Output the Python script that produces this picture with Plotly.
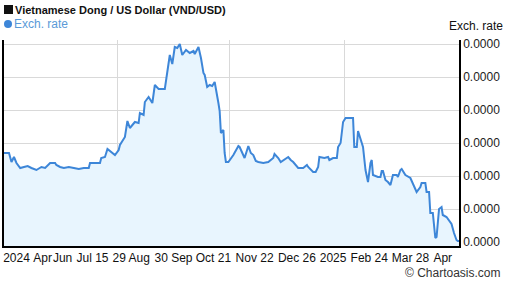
import plotly.graph_objects as go

dates = [
    "2024-05-05", "2024-05-09", "2024-05-11", "2024-05-13", "2024-05-15", "2024-05-18",
    "2024-05-21", "2024-05-24", "2024-05-27", "2024-05-31", "2024-06-04", "2024-06-07",
    "2024-06-11", "2024-06-15", "2024-06-16", "2024-06-19", "2024-06-22", "2024-06-26",
    "2024-06-30", "2024-07-04", "2024-07-08", "2024-07-12", "2024-07-13", "2024-07-18",
    "2024-07-21", "2024-07-22", "2024-07-25", "2024-07-27", "2024-07-31", "2024-08-02",
    "2024-08-05", "2024-08-06", "2024-08-10", "2024-08-12", "2024-08-14", "2024-08-18",
    "2024-08-21", "2024-08-22", "2024-08-25", "2024-08-26", "2024-08-29", "2024-09-01",
    "2024-09-03", "2024-09-06", "2024-09-11", "2024-09-12", "2024-09-15", "2024-09-17",
    "2024-09-19", "2024-09-21", "2024-09-23", "2024-09-25", "2024-09-28", "2024-10-01",
    "2024-10-04", "2024-10-05", "2024-10-08", "2024-10-10", "2024-10-12", "2024-10-13",
    "2024-10-15", "2024-10-17", "2024-10-19", "2024-10-21", "2024-10-22", "2024-10-24",
    "2024-10-25", "2024-10-26", "2024-10-28", "2024-10-29", "2024-10-30", "2024-11-01",
    "2024-11-05", "2024-11-09", "2024-11-10", "2024-11-14", "2024-11-17", "2024-11-19",
    "2024-11-21", "2024-11-23", "2024-11-25", "2024-11-29", "2024-12-03", "2024-12-07",
    "2024-12-08", "2024-12-11", "2024-12-13", "2024-12-19", "2024-12-21", "2024-12-23",
    "2024-12-27", "2024-12-31", "2025-01-03", "2025-01-04", "2025-01-08", "2025-01-10",
    "2025-01-12", "2025-01-13", "2025-01-17", "2025-01-20", "2025-01-21", "2025-01-24",
    "2025-01-27", "2025-01-28", "2025-01-30", "2025-02-01", "2025-02-03", "2025-02-09",
    "2025-02-10", "2025-02-12", "2025-02-13", "2025-02-17", "2025-02-19", "2025-02-21",
    "2025-02-23", "2025-02-24", "2025-02-25", "2025-03-01", "2025-03-03", "2025-03-04",
    "2025-03-05", "2025-03-07", "2025-03-09", "2025-03-11", "2025-03-13", "2025-03-16",
    "2025-03-17", "2025-03-19", "2025-03-20", "2025-03-23", "2025-03-27", "2025-03-29",
    "2025-04-01", "2025-04-04", "2025-04-05", "2025-04-08", "2025-04-09", "2025-04-11",
    "2025-04-12", "2025-04-14", "2025-04-16", "2025-04-17", "2025-04-19", "2025-04-21",
    "2025-04-22", "2025-04-25", "2025-04-28", "2025-04-29", "2025-05-01", "2025-05-03",
    "2025-05-04", "2025-05-05",
]

rates = [
    3.9379e-5, 3.9379e-5, 3.9280e-5, 3.9335e-5, 3.9269e-5, 3.9214e-5,
    3.9225e-5, 3.9236e-5, 3.9214e-5, 3.9192e-5, 3.9225e-5, 3.9214e-5,
    3.9269e-5, 3.9269e-5, 3.9247e-5, 3.9225e-5, 3.9214e-5, 3.9225e-5,
    3.9214e-5, 3.9203e-5, 3.9214e-5, 3.9214e-5, 3.9269e-5, 3.9269e-5,
    3.9269e-5, 3.9324e-5, 3.9335e-5, 3.9423e-5, 3.9379e-5, 3.9357e-5,
    3.9412e-5, 3.9467e-5, 3.9555e-5, 3.9731e-5, 3.9654e-5, 3.9720e-5,
    3.9709e-5, 3.9819e-5, 3.9797e-5, 3.9940e-5, 3.9995e-5, 3.9929e-5,
    4.0127e-5, 4.0083e-5, 4.0083e-5, 4.0182e-5, 4.0457e-5, 4.0358e-5,
    4.0545e-5, 4.0534e-5, 4.0578e-5, 4.0457e-5, 4.0512e-5, 4.0479e-5,
    4.0501e-5, 4.0468e-5, 4.0545e-5, 4.0424e-5, 4.0259e-5, 4.0237e-5,
    4.0105e-5, 4.0127e-5, 4.0116e-5, 4.0160e-5, 4.0094e-5, 3.9929e-5,
    3.9841e-5, 3.9599e-5, 3.9632e-5, 3.9379e-5, 3.9280e-5, 3.9280e-5,
    3.9357e-5, 3.9456e-5, 3.9445e-5, 3.9324e-5, 3.9456e-5, 3.9379e-5,
    3.9357e-5, 3.9291e-5, 3.9280e-5, 3.9269e-5, 3.9280e-5, 3.9324e-5,
    3.9368e-5, 3.9324e-5, 3.9280e-5, 3.9335e-5, 3.9302e-5, 3.9280e-5,
    3.9214e-5, 3.9214e-5, 3.9247e-5, 3.9225e-5, 3.9170e-5, 3.9170e-5,
    3.9225e-5, 3.9335e-5, 3.9324e-5, 3.9335e-5, 3.9302e-5, 3.9324e-5,
    3.9324e-5, 3.9445e-5, 3.9489e-5, 3.9720e-5, 3.9764e-5, 3.9764e-5,
    3.9445e-5, 3.9445e-5, 3.9621e-5, 3.9445e-5, 3.9192e-5, 3.9060e-5,
    3.9269e-5, 3.9302e-5, 3.9137e-5, 3.9115e-5, 3.9115e-5, 3.9181e-5,
    3.9181e-5, 3.9082e-5, 3.9060e-5, 3.9027e-5, 3.9137e-5, 3.9137e-5,
    3.9115e-5, 3.9192e-5, 3.9203e-5, 3.9137e-5, 3.9104e-5, 3.9049e-5,
    3.8950e-5, 3.9005e-5, 3.9049e-5, 3.9049e-5, 3.8950e-5, 3.8950e-5,
    3.8719e-5, 3.8719e-5, 3.8444e-5, 3.8455e-5, 3.8763e-5, 3.8785e-5,
    3.8697e-5, 3.8675e-5, 3.8609e-5, 3.8598e-5, 3.8499e-5, 3.8422e-5,
    3.8411e-5, 3.8411e-5,
]

x_tick_dates = [
    "2024-05-15", "2024-06-05", "2024-06-21", "2024-07-15", "2024-08-15", "2024-09-18",
    "2024-10-20", "2024-11-22", "2024-12-26", "2025-01-24", "2025-02-22", "2025-03-27",
    "2025-04-22",
]
x_tick_labels = [
    "2024", "Apr", "Jun", "Jul 15", "29 Aug", "30 Sep", "Oct 21", "Nov 22", "Dec 26",
    "2025", "Feb 24", "Mar 28", "Apr",
]
x_grid_dates = ["2024-08-04", "2024-11-02", "2025-02-02"]

y_tick_values = [3.8400e-5, 3.8763e-5, 3.9126e-5, 3.9489e-5, 3.9852e-5, 4.0215e-5, 4.0578e-5]

LINE = "#3d86d8"
FILL = "#e8f5fe"
FONT = "Liberation Sans, Arial, sans-serif"

fig = go.Figure()
fig.add_trace(go.Scatter(
    x=dates, y=rates, mode="lines",
    line=dict(color=LINE, width=2),
    fill="tozeroy", fillcolor=FILL,
    showlegend=False, hoverinfo="x+y",
))

fig.update_layout(
    width=507, height=288,
    margin=dict(l=2, r=48, t=40, b=42),
    paper_bgcolor="white", plot_bgcolor="white",
    font=dict(family=FONT, size=12, color="#222222"),
    showlegend=False,
    xaxis=dict(
        type="date",
        range=["2024-05-05", "2025-05-05"],
        tickmode="array", tickvals=x_tick_dates, ticktext=x_tick_labels,
        tickangle=0, ticks="", showgrid=False,
        showline=True, linecolor="#000000", linewidth=1.5,
        tickfont=dict(size=12, color="#111111"),
        zeroline=False,
        minor=dict(tickmode="array", tickvals=x_grid_dates, showgrid=True,
                   gridcolor="#d9d9d9", gridwidth=1, ticks=""),
    ),
    yaxis=dict(
        side="right",
        range=[3.8356e-5, 4.0622e-5],
        tickmode="array", tickvals=y_tick_values,
        tickformat=".4f",
        showgrid=True, gridcolor="#d9d9d9", gridwidth=1,
        showline=True, linecolor="#000000", linewidth=1.5, mirror=True,
        ticks="", zeroline=False,
        tickfont=dict(size=12, color="#222222"),
    ),
    shapes=[
        # title square and legend dot (pixel-sized, anchored to the plot's top-left corner)
        dict(type="rect", xref="paper", yref="paper",
             xsizemode="pixel", ysizemode="pixel", xanchor=0, yanchor=1,
             x0=0, x1=9, y0=26, y1=35,
             fillcolor="#111111", line=dict(width=0)),
        dict(type="circle", xref="paper", yref="paper",
             xsizemode="pixel", ysizemode="pixel", xanchor=0, yanchor=1,
             x0=0, x1=8, y0=12, y1=20,
             fillcolor=LINE, line=dict(width=0)),
    ],
    annotations=[
        dict(text="<b>Vietnamese Dong / US Dollar (VND/USD)</b>",
             xref="paper", yref="paper",
             x=0, xshift=9, y=1.0, yshift=30, xanchor="left", yanchor="middle", showarrow=False,
             font=dict(size=11, color="#111111", family=FONT)),
        dict(text="Exch. rate",
             xref="paper", yref="paper",
             x=0, xshift=8, y=1.0, yshift=16, xanchor="left", yanchor="middle", showarrow=False,
             font=dict(size=12, color="#5a9ad8", family=FONT)),
        dict(text="Exch. rate", xref="paper", yref="paper",
             x=1.0, xshift=46, y=1.0, yshift=14, xanchor="right", yanchor="middle",
             showarrow=False, font=dict(size=12, color="#111111", family=FONT)),
        dict(text="© Chartoasis.com", xref="paper", yref="paper",
             x=1.0, xshift=44, y=0, yshift=-27, xanchor="right", yanchor="middle",
             showarrow=False, font=dict(size=12, color="#333333", family=FONT)),
    ],
)

fig.write_html("out.html")
